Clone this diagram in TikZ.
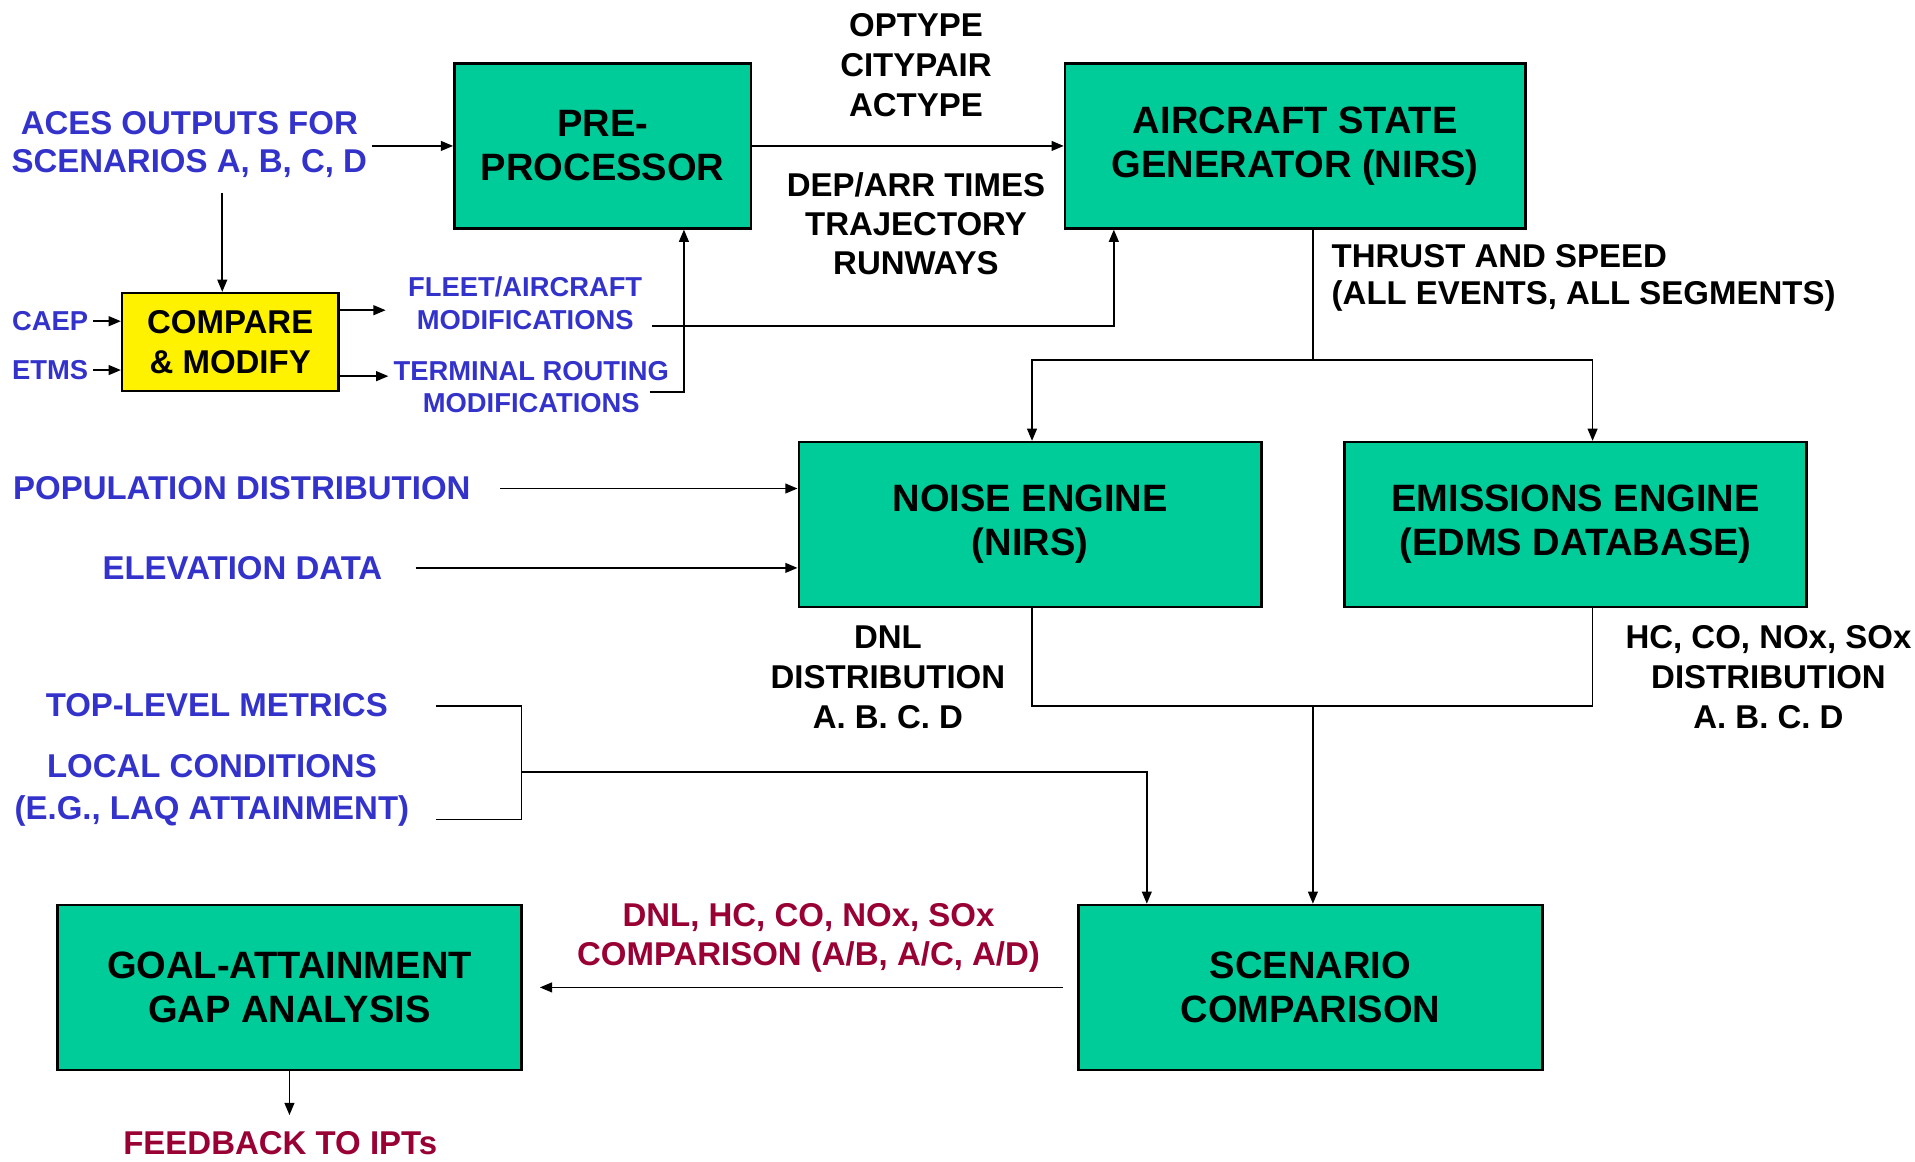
\documentclass[tikz,border=0pt]{standalone}
\usepackage{fontspec}
\setmainfont{Liberation Sans}
\usetikzlibrary{arrows.meta}
\definecolor{boxgreen}{RGB}{0,204,153}
\definecolor{lblblue}{RGB}{51,51,204}
\definecolor{lblred}{RGB}{153,0,51}
\newcommand\lblfont[2]{\fontsize{#1}{#2}\selectfont\bfseries}
\begin{document}
\begin{tikzpicture}[x=0.5pt,y=-0.5pt,
  box/.style={draw, line width=1pt, fill=boxgreen, inner sep=0pt, align=center, font=\lblfont{15.6}{18}},
  lbl/.style={align=center, inner sep=2pt, font=\lblfont{13.5}{16}},
  bluelbl/.style={lbl, text=lblblue},
  redlbl/.style={lbl, text=lblred},
  arr/.style={-{Triangle[length=5pt,width=4pt]}, line width=0.7pt},
  conn/.style={line width=0.7pt}]
\useasboundingbox (0,0) rectangle (1568,951);

% boxes
\node[box, minimum width=121.5pt, minimum height=67.5pt] (pre) at (493.5,119.5) {PRE-\\PROCESSOR};
\node[box, minimum width=188.5pt, minimum height=67.5pt] (asg) at (1060.5,119.5) {AIRCRAFT STATE\\GENERATOR (NIRS)};
\node[box, fill=yellow, minimum width=88.5pt, minimum height=40pt, font=\lblfont{13.5}{16.5}] (cmp) at (188.5,280) {COMPARE\\\& MODIFY};
\node[box, minimum width=189.5pt, minimum height=67.5pt] (noise) at (843.5,429.5) {NOISE ENGINE\\(NIRS)};
\node[box, minimum width=189pt, minimum height=67.5pt] (emis) at (1290,429.5) {EMISSIONS ENGINE\\(EDMS DATABASE)};
\node[box, minimum width=190pt, minimum height=67.5pt] (scen) at (1073,808.5) {SCENARIO\\COMPARISON};
\node[box, minimum width=190pt, minimum height=67.5pt] (goal) at (237,808.5) {GOAL-ATTAINMENT\\GAP ANALYSIS};

% labels
\node[bluelbl, font=\lblfont{13.5}{15.5}] (aces) at (155,118.5) {ACES OUTPUTS FOR\\SCENARIOS A, B, C, D};
\node[lbl, font=\lblfont{13.5}{16.25}] (opt) at (750,53.5) {OPTYPE\\CITYPAIR\\ACTYPE};
\node[lbl] (dep) at (750,183) {DEP/ARR TIMES\\TRAJECTORY\\RUNWAYS};
\node[bluelbl, font=\lblfont{11.2}{13}] (caep) at (41,263) {CAEP};
\node[bluelbl, font=\lblfont{11.2}{13}] (etms) at (41,303) {ETMS};
\node[bluelbl, font=\lblfont{11.2}{13.5}] (fleet) at (430,248.5) {FLEET/AIRCRAFT\\MODIFICATIONS};
\node[bluelbl, font=\lblfont{11.2}{13}] (term) at (435,317) {TERMINAL ROUTING\\MODIFICATIONS};
\node[lbl, align=left, anchor=west, font=\lblfont{13.5}{15.5}] (thr) at (1086,227.5) {THRUST AND SPEED\\(ALL EVENTS, ALL SEGMENTS)};
\node[bluelbl] (pop) at (198,400) {POPULATION DISTRIBUTION};
\node[bluelbl] (elev) at (198.5,465) {ELEVATION DATA};
\node[lbl, font=\lblfont{13.5}{16.25}] (dnl) at (727,554.5) {DNL\\DISTRIBUTION\\A. B. C. D};
\node[lbl, font=\lblfont{13.5}{16.25}] (hc) at (1448,554.5) {HC, CO, NOx, SOx\\DISTRIBUTION\\A. B. C. D};
\node[bluelbl] (top) at (177.5,577) {TOP-LEVEL METRICS};
\node[bluelbl, font=\lblfont{13.5}{17}] (local) at (173.5,647) {LOCAL CONDITIONS\\(E.G., LAQ ATTAINMENT)};
\node[redlbl] (cmpl) at (662,768) {DNL, HC, CO, NOx, SOx\\COMPARISON (A/B, A/C, A/D)};
\node[redlbl] (fb) at (229.5,936) {FEEDBACK TO IPTs};

% helper coordinates
\coordinate (xv1) at (182,0);
\coordinate (xv2) at (560,0);
\coordinate (xv3) at (912,0);
\coordinate (xa) at (1075,0);
\coordinate (xn) at (845,0);
\coordinate (xe) at (1304,0);
\coordinate (xs) at (939,0);
\coordinate (ysplit) at (0,295);
\coordinate (ymerge) at (0,578);
\coordinate (br) at (427,632);
\coordinate (tmod) at (532,321);
\coordinate (fmod) at (534,267);
\coordinate (tlend) at (357,578);
\coordinate (llend) at (357,671);
\coordinate (cf) at ([yshift=13pt]cmp.east);
\coordinate (ct) at ([yshift=-14pt]cmp.east);

% connectors
\draw[arr] (aces.east |- pre.west) -- (pre.west);
\draw[arr, shorten <=4pt] (aces.south -| xv1) -- (cmp.north -| xv1);
\draw[arr] (caep.east) -- (caep.east -| cmp.west);
\draw[arr] (etms.east) -- (etms.east -| cmp.west);
\draw[arr, shorten >=7pt] (cf) -- (cf -| fleet.west);
\draw[arr] (ct) -- (ct -| term.west);
\draw[arr] (fmod) -| (asg.south -| xv3);
\draw[arr] (tmod) -| (pre.south -| xv2);
\draw[arr] (pre) -- (asg);
\draw[conn] (asg.south -| xa) -- (xa |- ysplit);
\draw[arr] (xa |- ysplit) -| (noise.north -| xn);
\draw[arr] (xa |- ysplit) -| (emis.north -| xe);
\draw[arr, shorten <=10pt] (pop.east) -- (pop.east -| noise.west);
\draw[arr, shorten <=11.5pt] (elev.east) -- (elev.east -| noise.west);
\draw[conn] (noise.south -| xn) |- (ymerge -| xe) -- (emis.south -| xe);
\draw[arr] (xa |- ymerge) -- (scen.north -| xa);
\draw[conn] (tlend) -| (br) |- (llend);
\draw[arr] (br) -| (scen.north -| xs);
\draw[arr] ([xshift=-6pt]scen.west) -- ([xshift=7pt]goal.east);
\draw[arr, shorten >=4.5pt] (goal.south) -- (goal.south |- fb.north);
\end{tikzpicture}
\end{document}
